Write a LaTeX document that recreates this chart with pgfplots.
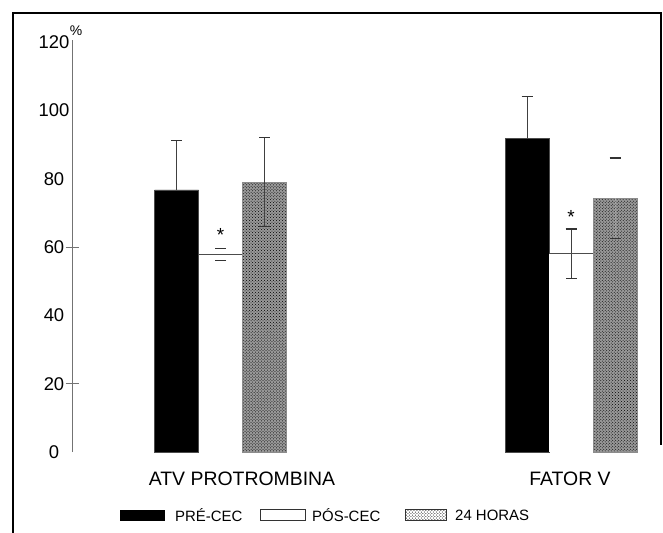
\documentclass[border=0pt]{standalone}
\usepackage{pgfplots}
\pgfplotsset{compat=1.18}
\usepackage{fontspec}
\setmainfont{Liberation Sans}
\usetikzlibrary{patterns}

\begin{document}
\begin{tikzpicture}[x=1bp,y=1bp]
\useasboundingbox (0,0) rectangle (663,-533);
\draw[line width=2bp] (13,-533) -- (13,-13) -- (661,-13) -- (661,-445);
\begin{axis}[
  at={(72bp,-452bp)}, anchor=south west,
  width=588bp, height=412.05bp, scale only axis,
  xmin=72, xmax=660, ymin=0, ymax=120.6,
  clip=false,
  axis x line=none,
  axis y line*=left,
  y axis line style={black!55, line width=0.8bp},
  ytick={0,20,...,120},
  major tick length=0pt,
  extra y ticks={20,60},
  extra y tick labels={},
  extra y tick style={major tick length=13bp, tick align=center, tick style={black!55, line width=0.8bp}},
  /pgf/number format/assume math mode=true,
  yticklabel style={font=\fontsize{18.5}{20}\selectfont, anchor=center, inner sep=0pt, xshift=-18bp},
  every axis plot/.append style={ybar, bar width=44, bar shift=0pt},
  emark/.style={error mark options={rotate=90, mark size=5.5bp, black!80, line width=1.5bp, draw opacity=1}},
]
% PRE-CEC
\addplot[fill=black, draw=black!70,
  error bars/.cd, y dir=plus, y explicit,
  error bar style={black!75, line width=0.8bp}, /pgfplots/emark]
  coordinates {(176.5,76.7) +- (0,14.5) (527,91.9) +- (0,12.1)};
% POS-CEC
\addplot[fill=white, draw=none,
  error bars/.cd, y dir=both, y explicit,
  error bar style={black!75, line width=0.8bp}, /pgfplots/emark]
  coordinates {(571,58) +- (0,7.2)};
\addplot[fill=white, draw=none, forget plot,
  error bars/.cd, y dir=both, y explicit,
  error bar style={white, line width=0.01bp}, /pgfplots/emark]
  coordinates {(220.5,57.8) +- (0,1.8)};
\addplot[sharp plot, black!70, line width=0.8bp, forget plot] coordinates {(198.5,57.8) (242.5,57.8)};
\addplot[sharp plot, black!70, line width=0.8bp, forget plot] coordinates {(549,58) (593,58)};
% 24 HORAS
\addplot[fill=black!40, postaction={pattern=crosshatch dots, pattern color=black}, draw=black!45,
  error bars/.cd, y dir=both, y explicit,
  error bar style={black!75, line width=0.8bp}, /pgfplots/emark]
  coordinates {(264.5,79) +- (0,13)};
\addplot[fill=black!40, postaction={pattern=crosshatch dots, pattern color=black}, draw=black!45, forget plot,
  error bars/.cd, y dir=both, y explicit,
  error bar style={white, line width=0.01bp}, /pgfplots/emark]
  coordinates {(615,74.3) +- (0,11.8)};
% stars
\node[font=\fontsize{19}{20}\selectfont, yshift=-4bp] at (axis cs:220.5,64.6) {*};
\node[font=\fontsize{19}{20}\selectfont, yshift=-4bp] at (axis cs:571,70) {*};
\end{axis}
\node[font=\fontsize{14}{16}\selectfont] at (76,-31) {\%};
\node[font=\fontsize{19.5}{22}\selectfont] at (242,-479) {ATV PROTROMBINA};
\node[font=\fontsize{19.5}{22}\selectfont] at (570,-479) {FATOR V};
% legend
\fill[black] (120,-509.5) rectangle (165,-520.5);
\node[font=\fontsize{15}{18}\selectfont, anchor=west, inner sep=0pt] at (175,-515) {PRÉ-CEC};
\draw[black!80, line width=0.8bp] (260,-509.5) rectangle (305,-520.5);
\node[font=\fontsize{15}{18}\selectfont, anchor=west, inner sep=0pt] at (312,-515) {PÓS-CEC};
\draw[black!80, line width=0.8bp, pattern=crosshatch dots] (405,-509.5) rectangle (446,-520.5);
\node[font=\fontsize{15}{18}\selectfont, anchor=west, inner sep=0pt] at (455,-515) {24 HORAS};
\end{tikzpicture}
\end{document}
